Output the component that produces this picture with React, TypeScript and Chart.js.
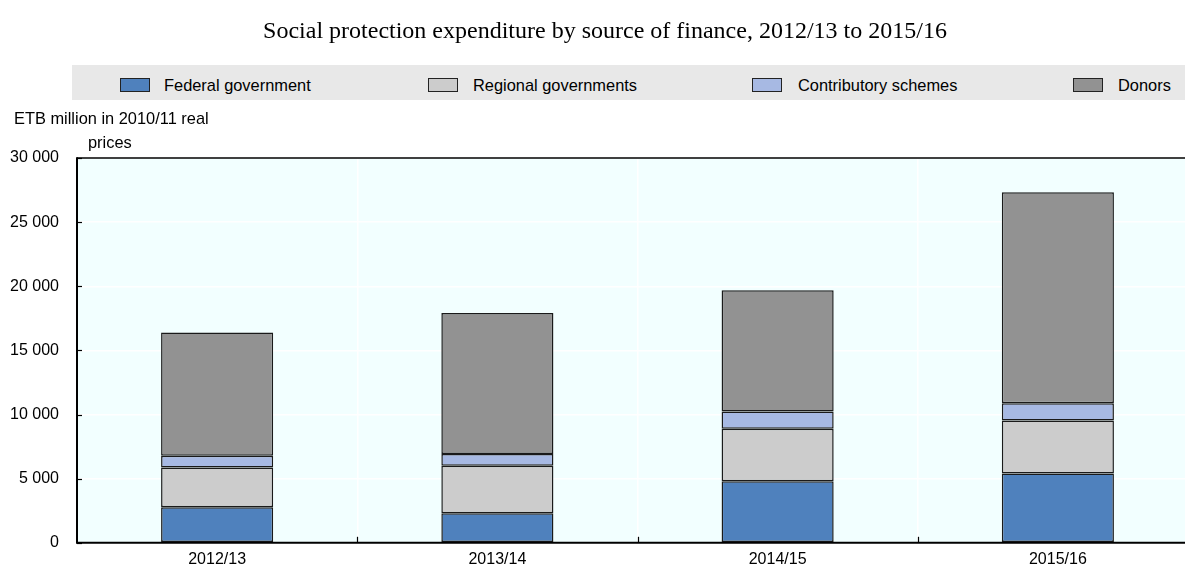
import React, { useEffect, useRef } from "react";
import { Chart, registerables } from "chart.js";

Chart.register(...registerables);

const categories = ["2012/13", "2013/14", "2014/15", "2015/16"];
const federal = [2770, 2300, 4790, 5410];
const regional = [3100, 3700, 4110, 4130];
const contributory = [920, 920, 1330, 1330];
const donors = [9610, 11000, 9460, 16460];
const seriesNames = ["Federal government", "Regional governments", "Contributory schemes", "Donors"];
const seriesColors = ["#4F81BD", "#CCCCCC", "#A7B9E3", "#929292"];
const yTicks = [0, 5000, 10000, 15000, 20000, 25000, 30000];

const title = "Social protection expenditure by source of finance, 2012/13 to 2015/16";
const yTitle1 = "ETB million in 2010/11 real";
const yTitle2 = "prices";

const fmt = (v: number) => String(v).replace(/\B(?=(\d{3})+(?!\d))/g, " ");

const legendPos = [
  { box: 120, text: 164 },
  { box: 428, text: 473 },
  { box: 752, text: 798 },
  { box: 1073, text: 1118 },
];

const framePlugin = {
  id: "frame",
  beforeDraw(chart: any) {
    const { ctx, chartArea } = chart;
    ctx.save();
    ctx.fillStyle = "#F2FFFF";
    ctx.fillRect(chartArea.left, chartArea.top, chartArea.right - chartArea.left, chartArea.bottom - chartArea.top);
    ctx.restore();
  },
  afterDraw(chart: any) {
    const { ctx, chartArea, scales } = chart;
    const { left, right, top, bottom } = chartArea;
    ctx.save();
    ctx.strokeStyle = "#000";
    ctx.lineWidth = 1.5;
    ctx.beginPath();
    ctx.moveTo(left, top);
    ctx.lineTo(right, top);
    ctx.stroke();
    ctx.lineWidth = 2;
    ctx.beginPath();
    ctx.moveTo(left, top - 0.75);
    ctx.lineTo(left, bottom);
    ctx.lineTo(right, bottom);
    ctx.stroke();
    ctx.lineWidth = 1.2;
    yTicks.forEach((v) => {
      const y = Math.round(scales.y.getPixelForValue(v)) + 0.5;
      ctx.beginPath();
      ctx.moveTo(left, y);
      ctx.lineTo(left + 5, y);
      ctx.stroke();
    });
    const xs = scales.x;
    for (let i = 1; i < categories.length; i++) {
      const x = Math.round((xs.getPixelForTick(i - 1) + xs.getPixelForTick(i)) / 2) + 0.5;
      ctx.beginPath();
      ctx.moveTo(x, bottom);
      ctx.lineTo(x, bottom - 6);
      ctx.stroke();
    }
    ctx.restore();
  },
};

export default function App() {
  const ref = useRef<HTMLCanvasElement | null>(null);
  useEffect(() => {
    if (!ref.current) return;
    const data = [federal, regional, contributory, donors];
    const chart = new Chart(ref.current, {
      type: "bar",
      data: {
        labels: categories,
        datasets: seriesNames.map((name, i) => ({
          label: name,
          data: data[i],
          backgroundColor: seriesColors[i],
          borderColor: "#1A1A1A",
          borderWidth: 1.5,
          borderSkipped: false,
          categoryPercentage: 1,
          barPercentage: 0.4,
        })),
      },
      options: {
        responsive: false,
        animation: false,
        layout: { padding: { top: 158, left: 0, right: 0, bottom: 0 } },
        plugins: {
          legend: { display: false },
          title: { display: false },
          tooltip: { enabled: false },
        },
        scales: {
          x: {
            stacked: true,
            offset: true,
            grid: { display: true, offset: true, color: "#FFFFFF", lineWidth: 1.5, drawTicks: false },
            border: { display: false },
            ticks: { color: "#000", font: { family: "'Liberation Sans', Arial, sans-serif", size: 16 }, padding: 7 },
          },
          y: {
            stacked: true,
            min: 0,
            max: 30000,
            afterBuildTicks: (s: any) => {
              s.ticks = yTicks.map((v) => ({ value: v }));
            },
            grid: { color: "#FFFFFF", lineWidth: 1.5, drawTicks: false },
            border: { display: false },
            ticks: {
              color: "#000",
              font: { family: "'Liberation Sans', Arial, sans-serif", size: 16 },
              padding: 18,
              callback: (v: any) => fmt(Number(v)),
            },
            afterFit: (s: any) => {
              s.width = 77;
            },
          },
        },
      },
      plugins: [framePlugin],
    });
    return () => chart.destroy();
  }, []);

  const sans = "'Liberation Sans', Arial, sans-serif";
  return (
    <div style={{ position: "fixed", left: 0, top: 0, width: 1198, height: 576, background: "#fff", overflow: "hidden" }}>
      <canvas ref={ref} width={1198} height={576} style={{ position: "absolute", left: 0, top: 0, width: 1198, height: 576 }} />
      <div
        style={{
          position: "absolute",
          left: 0,
          width: 1210,
          top: 16,
          textAlign: "center",
          fontFamily: "'Liberation Serif', 'Times New Roman', serif",
          fontSize: 24,
          lineHeight: "28px",
          color: "#000",
          whiteSpace: "nowrap",
        }}
      >
        {title}
      </div>
      <div style={{ position: "absolute", left: 72, top: 65, width: 1113, height: 35, background: "#E8E8E8" }} />
      {seriesNames.map((n, i) => (
        <React.Fragment key={n}>
          <div
            style={{
              position: "absolute",
              left: legendPos[i].box,
              top: 78,
              width: 28,
              height: 12,
              background: seriesColors[i],
              border: "1px solid #222",
            }}
          />
          <div
            style={{
              position: "absolute",
              left: legendPos[i].text,
              top: 75,
              fontFamily: sans,
              fontSize: 16.4,
              lineHeight: "20px",
              color: "#000",
              whiteSpace: "nowrap",
            }}
          >
            {n}
          </div>
        </React.Fragment>
      ))}
      <div style={{ position: "absolute", left: 14, top: 108, fontFamily: sans, fontSize: 16.4, lineHeight: "20px", whiteSpace: "nowrap" }}>
        {yTitle1}
      </div>
      <div style={{ position: "absolute", left: 88, top: 132, fontFamily: sans, fontSize: 16.4, lineHeight: "20px", whiteSpace: "nowrap" }}>
        {yTitle2}
      </div>
    </div>
  );
}
